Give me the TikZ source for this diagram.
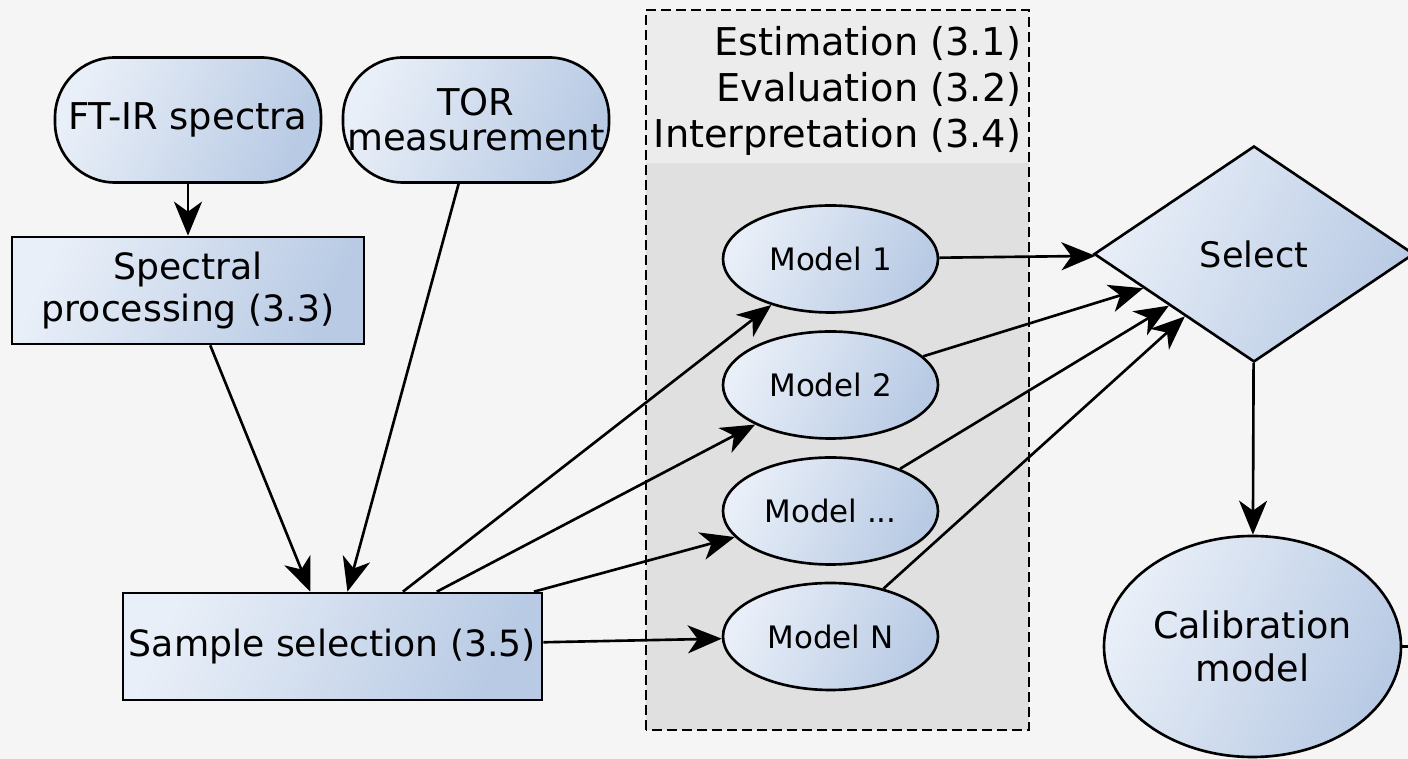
\documentclass[tikz,border=0pt]{standalone}
\usepackage{fontspec}
\setmainfont{DejaVu Sans}
\usetikzlibrary{arrows.meta, shapes.geometric}

\definecolor{bgcol}{HTML}{F5F5F5}
\definecolor{headcol}{HTML}{ECECEC}
\definecolor{groupcol}{HTML}{E0E0E0}
\definecolor{lightblue}{HTML}{E9EFF8}
\definecolor{darkblue}{HTML}{B8CAE4}

\tikzset{
  bluefill/.style={draw, line width=0.75pt, top color=lightblue, bottom color=darkblue, shading angle=65, inner sep=0pt, align=center},
  terminal/.style={bluefill, rounded corners=0.6cm, minimum width=2.66cm, minimum height=1.25cm, font=\fontsize{10.5pt}{10pt}\selectfont},
  procbox/.style={bluefill, minimum height=1.07cm, font=\fontsize{10.3pt}{12.2pt}\selectfont},
  model/.style={bluefill, ellipse, minimum width=2.15cm, minimum height=1.07cm, font=\fontsize{8.8pt}{10pt}\selectfont},
  arr/.style={-{Stealth[length=0.34cm, width=0.28cm, inset=0.1cm]}, line width=0.75pt},
}

\begin{document}
\begin{tikzpicture}
    \useasboundingbox[fill=bgcol] (0,0) rectangle (14.08,7.59);
    % group of models
    \fill[groupcol] (6.46,0.29) rectangle (10.29,7.49);
    \fill[headcol] (6.46,5.96) rectangle (10.29,7.49);
    \draw[line width=0.75pt, dash pattern=on 0.1cm off 0.05cm] (6.46,0.29) rectangle (10.29,7.49);
    \node[align=right, anchor=north east, inner sep=0pt, font=\fontsize{10.9pt}{13.1pt}\selectfont] (grouptitle) at (10.22,7.33) {Estimation (3.1)\\Evaluation (3.2)\\Interpretation (3.4)};

    \node[terminal] (ftir) at (1.88,6.39) {FT-IR spectra};
    \node[terminal] (tor) at (4.76,6.39) {TOR\\measurement};
    \node[procbox, minimum width=3.52cm] (spec) at (1.88,4.685) {Spectral\\processing (3.3)};
    \node[procbox, minimum width=4.19cm] (sample) at (3.325,1.125) {Sample selection (3.5)};

    \node[model] (m1) at (8.305,5.0) {Model 1};
    \node[model] (m2) at (8.305,3.74) {Model 2};
    \node[model] (m3) at (8.305,2.48) {Model ...};
    \node[model] (m4) at (8.305,1.225) {Model N};

    \node[bluefill, diamond, minimum width=3.2cm, minimum height=2.16cm, font=\fontsize{10pt}{12pt}\selectfont] (select) at (12.54,5.05) {Select};
    \node[bluefill, ellipse, minimum width=2.97cm, minimum height=2.21cm, font=\fontsize{10.4pt}{12.2pt}\selectfont] (calib) at (12.525,1.125) {Calibration\\model};
    \coordinate (offright) at (14.4,1.125);

    \draw[arr] (ftir) -- (spec);
    \draw[arr] (spec) -- (sample);
    \draw[arr] (tor) -- (sample);
    \foreach \m in {m1,m2,m3,m4} {
        \draw[arr] (sample) -- (\m);
        \draw[arr] (\m) -- (select);
    }
    \draw[arr] (select) -- (calib);
    \draw[line width=0.75pt] (calib) -- (offright);
\end{tikzpicture}
\end{document}
